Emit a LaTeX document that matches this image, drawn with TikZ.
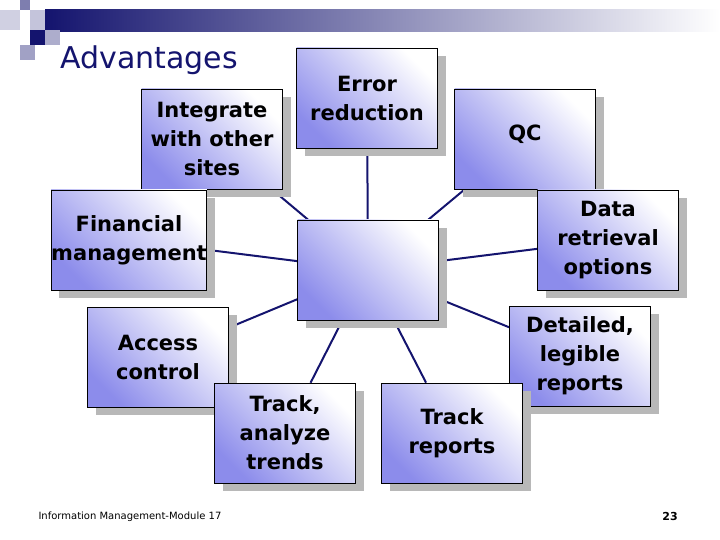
\documentclass[tikz,border=0pt]{standalone}
\usepackage{fontspec}
\setmainfont{DejaVu Sans}
\usetikzlibrary{shadows,backgrounds}
\definecolor{navy}{RGB}{20,20,110}
\definecolor{boxblue}{RGB}{140,140,235}
\begin{document}
\begin{tikzpicture}[x=1pt,y=-1pt,
  bx/.style={draw=black,line width=0.6pt,minimum width=141pt,minimum height=100pt,
    left color=white,right color=boxblue,shading angle=-45,
    drop shadow={shadow xshift=8pt,shadow yshift=-8pt,fill=black!28,opacity=1},
    font=\bfseries\fontsize{21}{29}\selectfont,align=center,inner sep=0pt},
  ln/.style={draw=navy,line width=2pt}]
\useasboundingbox (0,0) rectangle (720,540);
% header
\shade[left color=navy,right color=white] (45,10) rectangle (720,32);
\fill[navy] (30,30) rectangle (45,45);
\fill[navy!35] (45,30) rectangle (60,45);
\fill[navy!55] (20,0) rectangle (30,10);
\fill[navy!25] (30,10) rectangle (45,30);
\fill[navy!20] (0,10) rectangle (20,30);
\fill[navy!40] (20,45) rectangle (35,60);
\node[text=navy,font=\fontsize{30}{34}\selectfont,anchor=west] (title) at (57,60) {Advantages};
% nodes
\node[bx] (c) at (368,270) {};
\node[bx] (err) at (367,98) {Error\\reduction};
\node[bx] (int) at (212,139) {Integrate\\with other\\sites};
\node[bx] (qc) at (525,139) {\raisebox{13pt}{QC}};
\node[bx] (fin) at (129,240) {Financial\\management};
\node[bx] (dat) at (608,240) {Data\\retrieval\\options};
\node[bx] (acc) at (158,357) {Access\\control};
\node[bx] (det) at (580,356) {Detailed,\\legible\\reports};
\node[bx] (tra) at (285,433) {Track,\\analyze\\trends};
\node[bx] (trr) at (452,433) {Track\\reports};
\begin{scope}[on background layer]
\foreach \n in {err,int,qc,fin,dat,acc,det,tra,trr} \draw[ln] (c) -- (\n);
\end{scope}
\node[font=\fontsize{10}{12}\selectfont,anchor=west] (foot) at (35,517) {Information Management-Module 17};
\node[font=\bfseries\fontsize{11}{12}\selectfont] (pg) at (670,516) {23};
\end{tikzpicture}
\end{document}
